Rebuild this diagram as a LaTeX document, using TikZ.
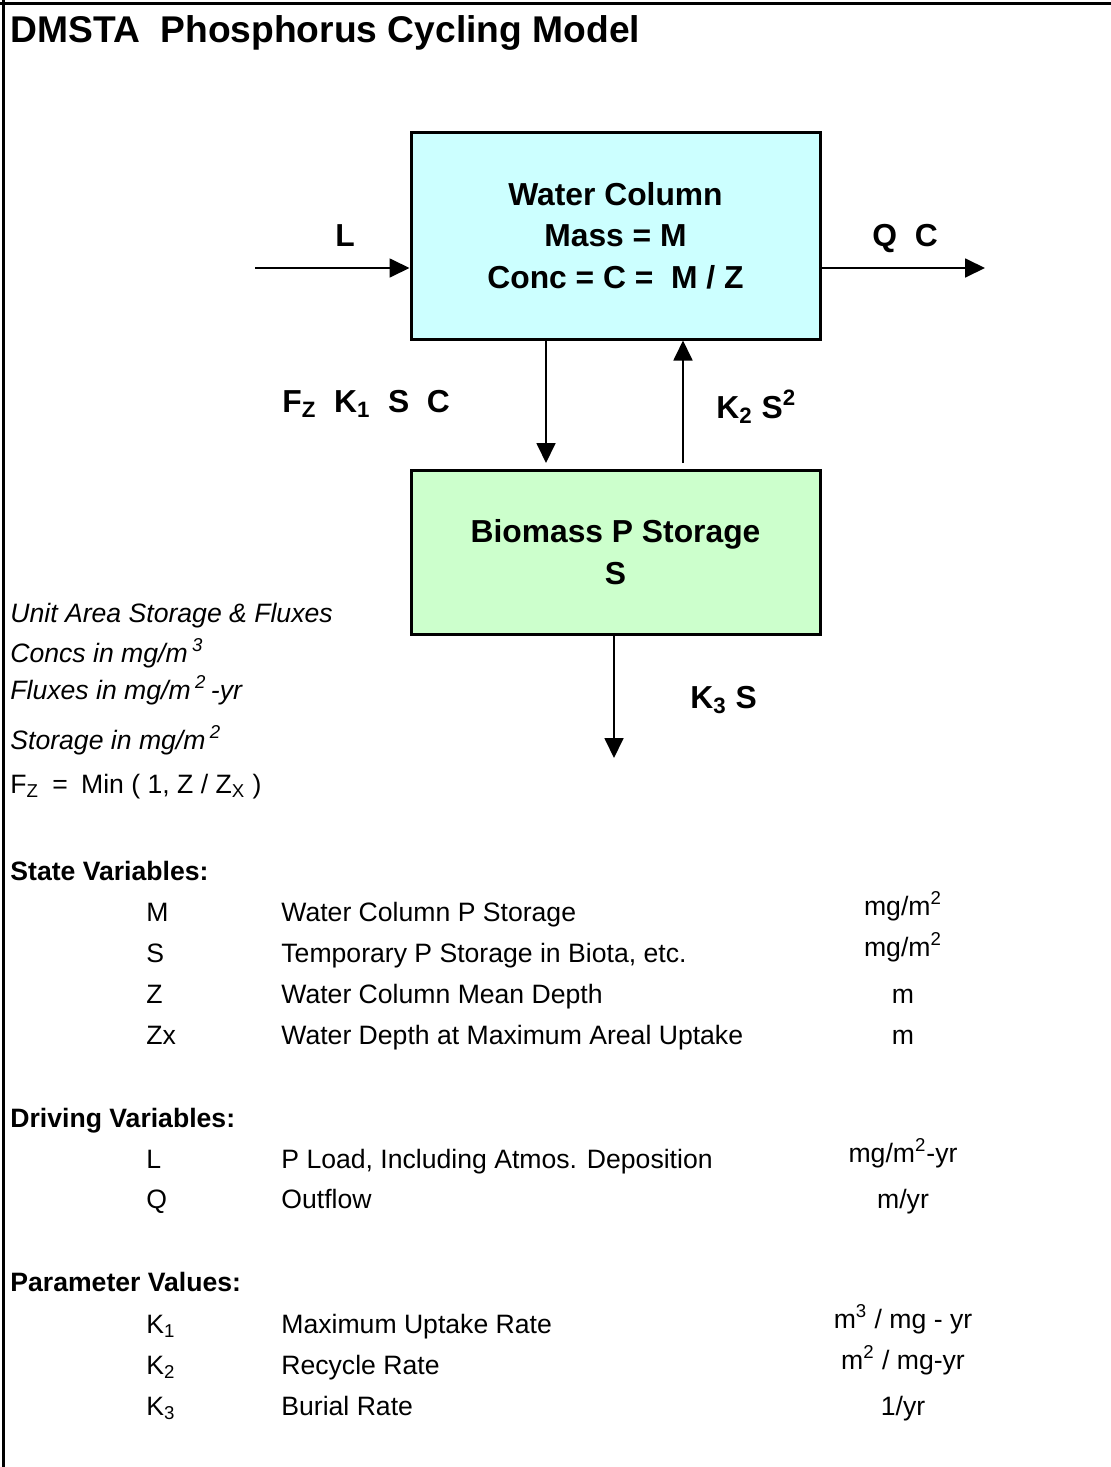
\documentclass[tikz,border=0pt]{standalone}
\usepackage{fontspec}
\setmainfont{Liberation Sans}
\usetikzlibrary{arrows.meta}
\definecolor{wcfill}{HTML}{CCFFFF}
\definecolor{bmfill}{HTML}{CCFFCC}
\begin{document}
\begin{tikzpicture}[x=0.5pt,y=-0.5pt,
  titletxt/.style={anchor=base west, inner sep=0pt, font=\bfseries\fontsize{18.6}{22}\selectfont},
  boxnode/.style={draw=black, line width=1.5pt, inner sep=0pt, align=center,
     minimum width=204.5pt, font=\bfseries\fontsize{15.9}{20.75}\selectfont},
  lbl/.style={anchor=base west, inner sep=0pt, font=\bfseries\fontsize{15.9}{19}\selectfont},
  txt/.style={anchor=base west, inner sep=0pt, font=\fontsize{13.3}{16}\selectfont},
  itxt/.style={txt, font=\itshape\fontsize{13.3}{16}\selectfont},
  head/.style={txt, font=\bfseries\fontsize{13.3}{16}\selectfont},
  unit/.style={anchor=base, inner sep=0pt, font=\fontsize{13.3}{16}\selectfont},
  arr/.style={line width=0.9pt, -{Triangle[length=10pt,width=9.5pt]}}]
\useasboundingbox (0,0) rectangle (1111,1467);
% frame
\draw[line width=1.5pt] (0,3) -- (1111,3);
\draw[line width=1.5pt] (3,0) -- (3,1467);
% title
\node[titletxt] (title) at (10,42) {DMSTA\ \ Phosphorus Cycling Model};
% boxes
\node[boxnode, fill=wcfill, minimum height=103.5pt] (wc) at (615.5,235.5)
  {Water Column\\Mass = M\\Conc = C =\ \ M / Z};
\node[boxnode, fill=bmfill, minimum height=82pt] (bm) at (615.5,552)
  {Biomass P Storage\\S};
% connector end points
\coordinate (lin) at (255,268);
\coordinate (qout) at (985,268);
\coordinate (dtip) at (546,463);
\coordinate (ubase) at (683,463);
\coordinate (btip) at (614,758);
% arrows
\draw[arr] (lin) -- (lin -| wc.west);
\draw[arr] (qout -| wc.east) -- (qout);
\draw[arr] (wc.south -| dtip) -- (dtip);
\draw[arr] (ubase) -- (wc.south -| ubase);
\draw[arr] (bm.south -| btip) -- (btip);
% flux labels
\node[lbl, anchor=base] (lL) at (345,246) {L};
\node[lbl] (lQ) at (872,246) {Q\ \ C};
\node[lbl] (lF) at (282,412) {F\textsubscript{Z}\ \ K\textsubscript{1}\ \ S\ \ C};
\node[lbl] (lK2) at (716,418) {K\textsubscript{2} S\textsuperscript{2}};
\node[lbl] (lK3) at (690,708) {K\textsubscript{3} S};
% notes
\node[itxt] (n1) at (10,622) {Unit Area Storage \& Fluxes};
\node[itxt] (n2) at (10,662) {Concs in mg/m\,\textsuperscript{3}};
\node[itxt] (n3) at (10,699) {Fluxes in mg/m\,\textsuperscript{2}\,-yr};
\node[itxt] (n4) at (10,749) {Storage in mg/m\,\textsuperscript{2}};
\node[txt] (n5) at (10,793) {F\textsubscript{Z}\enspace=\enspace Min ( 1, Z / Z\textsubscript{X} )};
% State variables
\node[head] (h1) at (10,880) {State Variables:};
\node[txt] (s1a) at (146,921) {M};
\node[txt] (s1b) at (281,921) {Water Column P Storage};
\node[unit] (s1c) at (903,915) {mg/m\textsuperscript{2}};
\node[txt] (s2a) at (146,962) {S};
\node[txt] (s2b) at (281,962) {Temporary P Storage in Biota, etc.};
\node[unit] (s2c) at (903,956) {mg/m\textsuperscript{2}};
\node[txt] (s3a) at (146,1003) {Z};
\node[txt] (s3b) at (281,1003) {Water Column Mean Depth};
\node[unit] (s3c) at (903,1003) {m};
\node[txt] (s4a) at (146,1044) {Zx};
\node[txt] (s4b) at (281,1044) {Water Depth at Maximum Areal Uptake};
\node[unit] (s4c) at (903,1044) {m};
% Driving variables
\node[head] (h2) at (10,1127) {Driving Variables:};
\node[txt] (d1a) at (146,1168) {L};
\node[txt] (d1b) at (281,1168) {P Load, Including Atmos. Deposition};
\node[unit] (d1c) at (903,1162) {mg/m\textsuperscript{2}-yr};
\node[txt] (d2a) at (146,1208) {Q};
\node[txt] (d2b) at (281,1208) {Outflow};
\node[unit] (d2c) at (903,1208) {m/yr};
% Parameters
\node[head] (h3) at (10,1291) {Parameter Values:};
\node[txt] (p1a) at (146,1333) {K\textsubscript{1}};
\node[txt] (p1b) at (281,1333) {Maximum Uptake Rate};
\node[unit] (p1c) at (903,1328) {m\textsuperscript{3} / mg - yr};
\node[txt] (p2a) at (146,1374) {K\textsubscript{2}};
\node[txt] (p2b) at (281,1374) {Recycle Rate};
\node[unit] (p2c) at (903,1369) {m\textsuperscript{2} / mg-yr};
\node[txt] (p3a) at (146,1415) {K\textsubscript{3}};
\node[txt] (p3b) at (281,1415) {Burial Rate};
\node[unit] (p3c) at (903,1415) {1/yr};
\end{tikzpicture}
\end{document}
